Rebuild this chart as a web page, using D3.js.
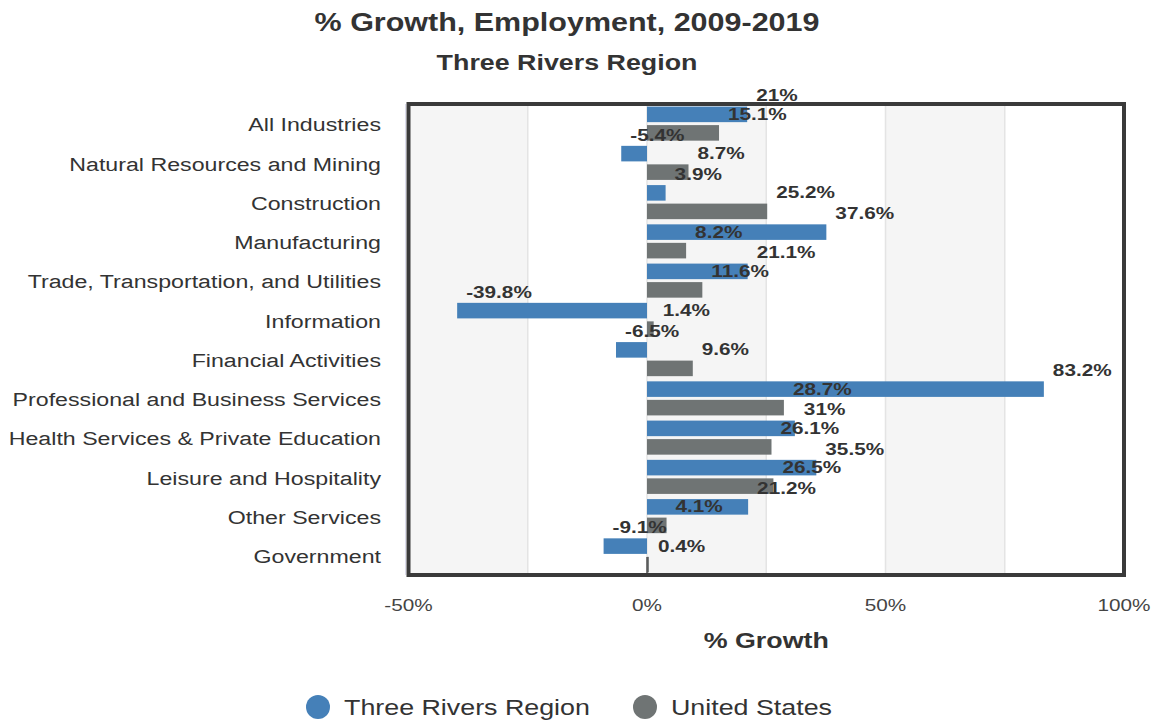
<!DOCTYPE html>
<html>
<head>
<meta charset="utf-8">
<script src="https://cdn.jsdelivr.net/npm/d3@7/dist/d3.min.js"></script>
<style>
  html, body { margin: 0; padding: 0; background: #fff; }
  svg { display: block; font-family: "Liberation Sans", Arial, sans-serif; }
</style>
</head>
<body>
<svg id="chart" width="1151" height="725"></svg>
<script>
// Employment growth by industry, 2009-2019
const categories = [
  "All Industries",
  "Natural Resources and Mining",
  "Construction",
  "Manufacturing",
  "Trade, Transportation, and Utilities",
  "Information",
  "Financial Activities",
  "Professional and Business Services",
  "Health Services & Private Education",
  "Leisure and Hospitality",
  "Other Services",
  "Government"
];
const seriesNames = ["Three Rivers Region", "United States"];
const regionValues = [21, -5.4, 3.9, 37.6, 21.1, -39.8, -6.5, 83.2, 31, 35.5, 21.2, -9.1];
const usValues     = [15.1, 8.7, 25.2, 8.2, 11.6, 1.4, 9.6, 28.7, 26.1, 26.5, 4.1, 0.4];
const tickValues   = [-50, 0, 50, 100];
const bandEdges    = [-50, -25, 0, 25, 50, 75, 100];

const colors = ["#4580b8", "#6f7474"];
const STRETCH = 1.22; // wide lettering used throughout the chart

const svg = d3.select("#chart");
const plot = { left: 408.5, right: 1124, top: 104, bottom: 575 };

// Places a text element at (px, py) with horizontally widened glyphs
function place(sel, px, py) {
  sel.attr("transform", function (d, i) {
    const xx = typeof px === "function" ? px(d, i) : px;
    const yy = typeof py === "function" ? py(d, i) : py;
    return `translate(${xx},${yy}) scale(${STRETCH},1)`;
  });
  return sel;
}

const x = d3.scaleLinear().domain([-50, 100]).range([plot.left, plot.right]);
const y = d3.scaleBand().domain(categories).range([plot.top, plot.bottom]).padding(0);
const ySeries = d3.scaleBand().domain(seriesNames).range([0, y.bandwidth()])
  .paddingInner(0.16).paddingOuter(0.14);

// Alternating background bands
const bands = d3.pairs(bandEdges).filter((d, i) => i % 2 === 0);
svg.append("g").selectAll("rect").data(bands).join("rect")
  .attr("x", d => x(d[0])).attr("width", d => x(d[1]) - x(d[0]))
  .attr("y", plot.top).attr("height", plot.bottom - plot.top)
  .attr("fill", "#f5f5f5");

// Grid lines every 25%
svg.append("g").selectAll("line").data(bandEdges.slice(1, -1)).join("line")
  .attr("x1", d => x(d)).attr("x2", d => x(d))
  .attr("y1", plot.top).attr("y2", plot.bottom)
  .attr("stroke", "#e4e4e4").attr("stroke-width", 1.5);

// Bars
const rows = categories.map((c, i) => ({ cat: c, values: [regionValues[i], usValues[i]] }));
const barData = rows.flatMap(r => r.values.map((v, s) => ({ cat: r.cat, s, v })));

svg.append("g").selectAll("rect").data(barData).join("rect")
  .attr("x", d => x(Math.min(0, d.v)))
  .attr("width", d => Math.abs(x(d.v) - x(0)))
  .attr("y", d => y(d.cat) + ySeries(seriesNames[d.s]))
  .attr("height", ySeries.bandwidth())
  .attr("fill", d => colors[d.s]);

// Short zero marker at the base of the plot
svg.append("line")
  .attr("x1", x(0)).attr("x2", x(0))
  .attr("y1", plot.bottom - 18).attr("y2", plot.bottom)
  .attr("stroke", "#555").attr("stroke-width", 1.5);

// Plot frame
svg.append("line").attr("x1", plot.left - 3).attr("x2", plot.left - 3)
  .attr("y1", plot.top).attr("y2", plot.bottom).attr("stroke", "#dcdcec").attr("stroke-width", 1);
svg.append("rect")
  .attr("x", plot.left).attr("y", plot.top)
  .attr("width", plot.right - plot.left).attr("height", plot.bottom - plot.top)
  .attr("fill", "none").attr("stroke", "#3a3a3a").attr("stroke-width", 4);
svg.append("line").attr("x1", plot.left).attr("x2", plot.left)
  .attr("y1", plot.top).attr("y2", plot.bottom).attr("stroke", "#3a3a3a").attr("stroke-width", 3);

// Value labels
svg.append("g").selectAll("text").data(barData).join("text")
  .call(place,
    d => x(d.v) + 9,
    d => y(d.cat) + ySeries(seriesNames[d.s]) + ySeries.bandwidth() / 2 - 19)
  .attr("dy", "0.35em")
  .attr("font-size", 17).attr("font-weight", "bold")
  .attr("fill", "#333")
  .text(d => d.v + "%");

// Category axis labels
svg.append("g").selectAll("text").data(categories).join("text")
  .call(place, 381, d => y(d) + y.bandwidth() / 2 + 1)
  .attr("dy", "0.35em")
  .attr("text-anchor", "end")
  .attr("font-size", 19)
  .attr("fill", "#333")
  .text(d => d);

// X axis tick labels
svg.append("g").selectAll("text").data(tickValues).join("text")
  .call(place, d => x(d), 605)
  .attr("dy", "0.35em")
  .attr("text-anchor", "middle")
  .attr("font-size", 17)
  .attr("fill", "#444")
  .text(d => d + "%");

// X axis title
svg.append("text")
  .call(place, (plot.left + plot.right) / 2, 640)
  .attr("dy", "0.35em").attr("text-anchor", "middle")
  .attr("font-size", 22).attr("font-weight", "bold").attr("fill", "#333")
  .text("% Growth");

// Titles
svg.append("text")
  .call(place, 567, 22)
  .attr("dy", "0.35em")
  .attr("text-anchor", "middle")
  .attr("font-size", 25).attr("font-weight", "bold").attr("fill", "#333")
  .text("% Growth, Employment, 2009-2019");
svg.append("text")
  .call(place, 567, 62)
  .attr("dy", "0.35em")
  .attr("text-anchor", "middle")
  .attr("font-size", 22).attr("font-weight", "bold").attr("fill", "#333")
  .text("Three Rivers Region");

// Legend
const legend = svg.append("g");
const legendX = [318, 645];
seriesNames.forEach((name, i) => {
  const g = legend.append("g").attr("transform", `translate(${legendX[i]},707)`);
  g.append("circle").attr("r", 12).attr("fill", colors[i]);
  g.append("text").call(place, 26, 0).attr("dy", "0.35em")
    .attr("font-size", 22).attr("fill", "#333").text(name);
});
</script>
</body>
</html>
